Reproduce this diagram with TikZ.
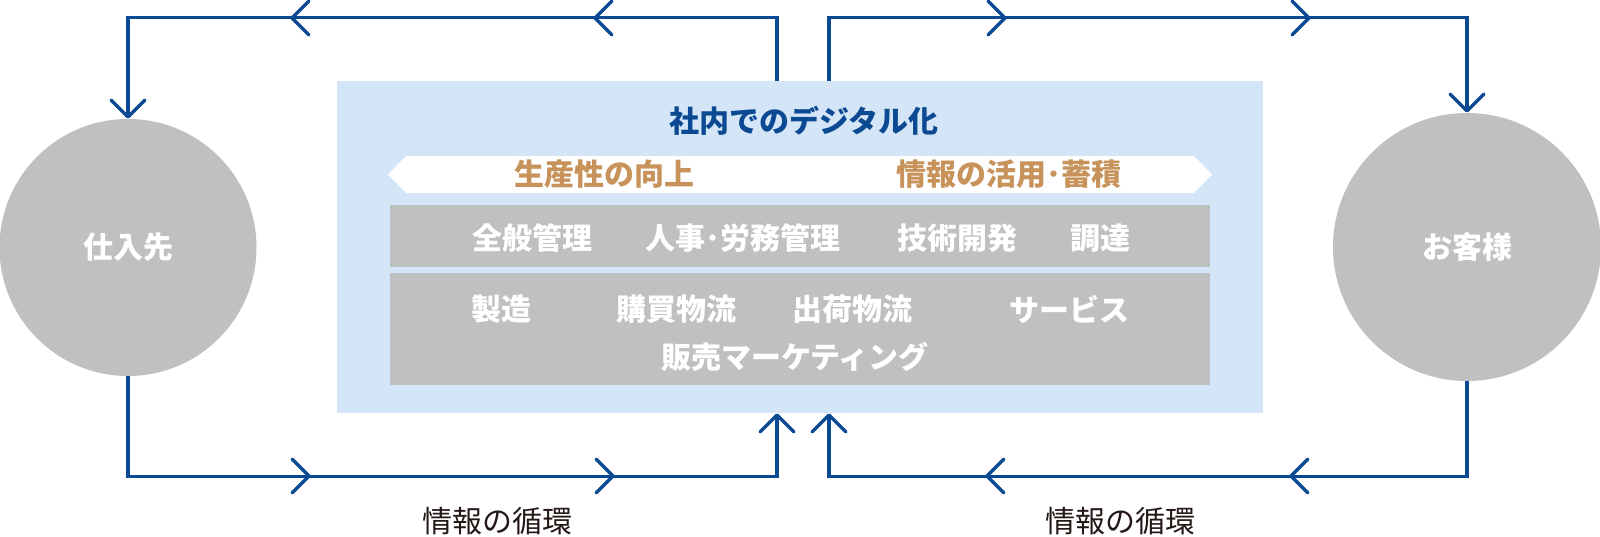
\documentclass[tikz,border=0pt]{standalone}
\usepackage{fontspec}
\setmainfont{Noto Sans CJK JP}
\usetikzlibrary{arrows.meta,calc}
\definecolor{lineblue}{HTML}{0A4A93}
\definecolor{titleblue}{HTML}{0B4A92}
\definecolor{boxblue}{HTML}{D3E5F6}
\definecolor{cgray}{HTML}{BFC0C0}
\definecolor{tanc}{HTML}{C8935B}
\definecolor{darkc}{HTML}{231815}
\tikzset{
  chev/.pic={\draw[lineblue, line width=1.65pt, line cap=round, line join=miter] (-17,-17) -- (0,0) -- (-17,17);},
}
\begin{document}
\begin{tikzpicture}[x=0.5pt,y=-0.5pt,
  txt/.style={inner sep=0pt, font=\fontsize{15pt}{18pt}\selectfont},
  btxt/.style={inner sep=0pt, font=\fontsize{15pt}{18pt}\selectfont\bfseries},
  wtxt/.style={btxt, text=white},
  party/.style={circle, fill=cgray, inner sep=0pt, text=white, font=\fontsize{15pt}{18pt}\selectfont\bfseries},
  graybar/.style={fill=cgray, inner sep=0pt, minimum width=409.75pt},
  flow/.style={draw=lineblue, line width=1.65pt, line join=miter},
  flowend/.style={flow, -{Straight Barb[length=8.5pt,width=17pt,round]}}
]
\useasboundingbox (0,0) rectangle (1600,536);
\fill[white] (0,0) rectangle (1600,536);

% central box
\node[fill=boxblue, inner sep=0pt, minimum width=463pt, minimum height=166pt] (box) at (800,247) {};
\node[graybar, minimum height=31pt] (row1) at (800,236) {};
\node[graybar, minimum height=56pt] (row2) at (800,329) {};
\fill[white] (388,174.5) -- (406,156) -- (1194,156) -- (1212,174.5) -- (1194,193) -- (406,193) -- cycle;

\node[btxt, text=titleblue] (title) at (804,121) {社内でのデジタル化};
\node[btxt, text=tanc] (b1) at (604,174) {生産性の向上};
\node[btxt, text=tanc] (b2) at (1008.5,174) {情報の活用･蓄積};

\node[wtxt] (t1) at (532,238) {全般管理};
\node[wtxt] (t2) at (742.5,238) {人事･労務管理};
\node[wtxt] (t3) at (957,238) {技術開発};
\node[wtxt] (t4) at (1100,238) {調達};
\node[wtxt] (t5) at (501.5,309) {製造};
\node[wtxt] (t6) at (676.5,309) {購買物流};
\node[wtxt] (t7) at (852,309) {出荷物流};
\node[wtxt] (t8) at (1069,309) {サービス};
\node[wtxt] (t9) at (795,357) {販売マーケティング};

% parties
\node[party, minimum size=128.5pt] (sup) at (128,247.5) {仕入先};
\node[party, minimum size=134pt] (cus) at (1467,247) {お客様};

% flows
\draw[flowend] ($(box.north)+(-23,0)$) -- ++(0,-63) -| (sup.north);
\draw[flowend] ($(box.north)+(29,0)$) -- ++(0,-63) -| (cus.north);
\draw[flowend] (sup.south) |- ($(box.south)+(-23,63)$) -- ($(box.south)+(-23,0)$);
\draw[flowend] (cus.south) |- ($(box.south)+(29,63)$) -- ($(box.south)+(29,0)$);

\pic[rotate=180] at (595,18) {chev};
\pic[rotate=180] at (292,18) {chev};
\pic at (1005,18) {chev};
\pic at (1309,18) {chev};
\pic at (309,476) {chev};
\pic at (613,476) {chev};
\pic[rotate=180] at (987,476) {chev};
\pic[rotate=180] at (1291,476) {chev};

\node[txt, text=darkc] (l1) at (497,521) {情報の循環};
\node[txt, text=darkc] (l2) at (1120,521) {情報の循環};
\end{tikzpicture}
\end{document}
